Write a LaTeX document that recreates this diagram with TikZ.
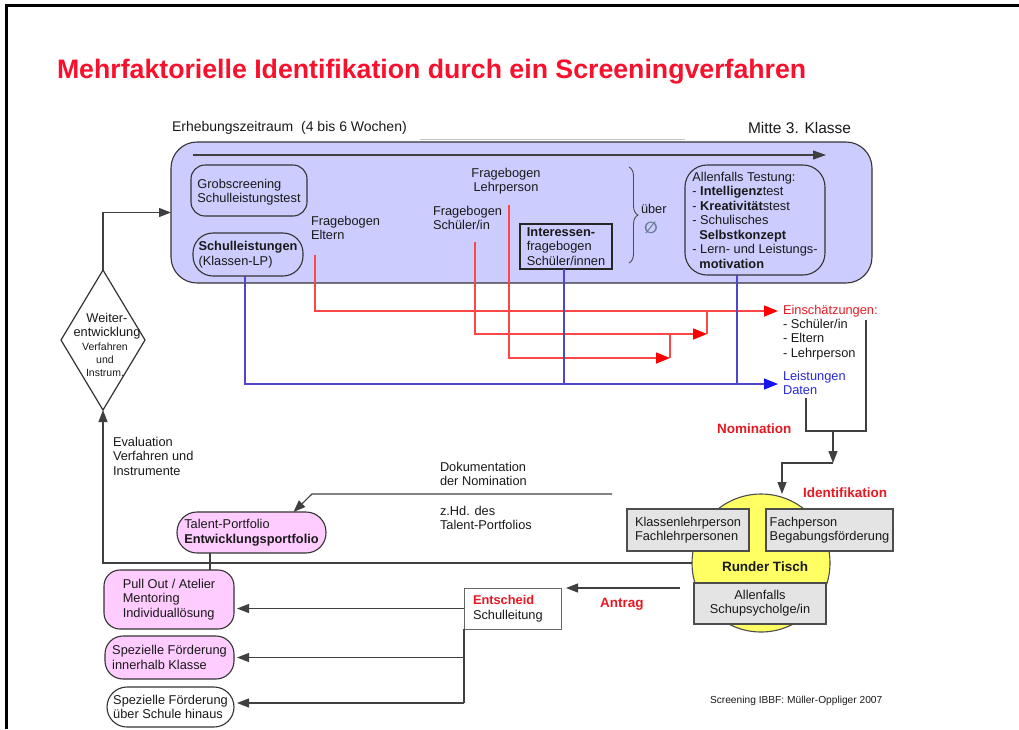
\documentclass[tikz,border=0pt]{standalone}
\usepackage{fontspec}
\setmainfont{Liberation Sans}
\newfontfamily\symfont{DejaVu Sans}
\usetikzlibrary{arrows.meta,shapes.geometric,decorations.pathreplacing}
\definecolor{titlered}{RGB}{248,16,44}
\definecolor{boxlav}{RGB}{204,204,255}
\definecolor{lnred}{RGB}{255,70,70}
\definecolor{arrred}{RGB}{255,0,0}
\definecolor{lnblue}{RGB}{80,70,205}
\definecolor{arrblue}{RGB}{20,20,240}
\definecolor{einred}{RGB}{230,25,35}
\definecolor{txtblue}{RGB}{40,40,220}
\definecolor{pinkfill}{RGB}{255,204,255}
\definecolor{grayfill}{RGB}{228,228,228}
\definecolor{tischyellow}{RGB}{255,255,100}
\definecolor{diacol}{RGB}{105,125,155}
\newcommand\bodyfont{\fontsize{12.8}{14.5}\selectfont}
\newcommand\labfont{\fontsize{13.5}{15}\selectfont\bfseries}
\begin{document}
\begin{tikzpicture}[x=1pt,y=-1pt,
  every node/.style={inner sep=0pt, outer sep=0pt, font=\bodyfont, text=black!90},
  bx/.style={draw=black!80, line width=1.1pt},
  gbox/.style={draw=black!70, line width=1.1pt, fill=grayfill, font=\fontsize{12.8}{13.8}\selectfont},
  pbox/.style={draw=black!80, line width=1.1pt, fill=pinkfill},
  wbox/.style={draw=black!80, line width=1.1pt, fill=white},
  ln/.style={draw=black!75, line width=1.1pt},
  arr/.style={ln, -{Triangle[length=12pt,width=9pt]}},
  redln/.style={draw=lnred, line width=1.5pt},
  redarr/.style={redln, -{Triangle[length=14pt,width=11pt,color=arrred]}},
  bluln/.style={draw=lnblue, line width=1.3pt},
  bluarr/.style={bluln, -{Triangle[length=14pt,width=11pt,color=arrblue]}}]
\useasboundingbox (0,0) rectangle (1019,729);
% frame
\draw[line width=3pt] (5,5) -- (1019,5);
\draw[line width=3pt] (6,5) -- (6,729);
% title
\node[anchor=base west, font=\fontsize{26.7}{30}\selectfont\bfseries, text=titlered] (title) at (57,78) {Mehrfaktorielle Identifikation durch ein Screeningverfahren};
% header
\node[anchor=west, font=\fontsize{14}{16}\selectfont] (ezr) at (172,128) {Erhebungszeitraum\ \ (4 bis 6 Wochen)};
\node[anchor=west, font=\fontsize{15.5}{17}\selectfont] (mitte) at (748,128) {Mitte 3. Klasse};
\draw[gray!45, line width=0.8pt] (420,139) -- (685,139);
% big box
\node[bx, fill=boxlav, rounded corners=26pt, minimum width=701pt, minimum height=141pt, anchor=north west] (erh) at (171,142) {};
\coordinate (t0) at (193,155);
\coordinate (t1) at (826,155);
\draw[arr, -{Triangle[length=13pt,width=9pt]}] (t0) -- (t1);
\node[bx, rounded corners=14pt, minimum width=116pt, minimum height=51pt, anchor=north west, align=left] (grob) at (191,165) {\rule{0pt}{13pt}Grobscreening\\Schulleistungstest};
\node[bx, rounded corners=20pt, minimum width=110pt, minimum height=43pt, anchor=north west, align=left] (sl) at (193,233) {\textbf{Schulleistungen}\\(Klassen-LP)};
\node[anchor=north west, align=left] (elt) at (311,216) {Fragebogen\\Eltern};
\node[anchor=north, align=center] (lehr) at (506,168) {Fragebogen\\Lehrperson};
\node[anchor=north west, align=left] (sch) at (433,206) {Fragebogen\\Schüler/in};
\node[draw=black!85, line width=1.1pt, minimum width=92pt, minimum height=45pt, anchor=north west, align=left] (int) at (520,224) {\textbf{Interessen-}\\fragebogen\\Schüler/innen};
\coordinate (br0) at (629,167);
\coordinate (br1) at (629,263);
\draw[decorate, decoration={brace, amplitude=9pt}, black!70, line width=0.9pt] (br0) -- (br1);
\node[anchor=west] (uber) at (641,209) {über};
\node[font=\symfont\fontsize{16}{17}\selectfont\bfseries, text=diacol] (dm) at (651,228) {∅};
\node[bx, rounded corners=22pt, minimum width=140pt, minimum height=110pt, anchor=north west, align=left] (alt) at (685,165) {Allenfalls Testung:\\- \textbf{Intelligenz}test\\- \textbf{Kreativität}stest\\- Schulisches\\\hspace*{7pt}\textbf{Selbstkonzept}\\- Lern- und Leistungs-\\\hspace*{7pt}\textbf{motivation}};
% right texts
\node[anchor=west, text=einred] (ein) at (783,311) {Einschätzungen:};
\node[anchor=north west, align=left] (einl) at (783,319) {- Schüler/in\\- Eltern\\- Lehrperson};
\node[anchor=north west, align=left, text=txtblue] (lei) at (783,371) {Leistungen\\Daten};
% red connectors
\coordinate (e0) at (315,255);
\coordinate (einT) at (778,311);
\draw[redarr] (e0) |- (einT);
\coordinate (s0) at (475,242);
\coordinate (sT) at (707,334);
\draw[redarr] (s0) |- (sT);
\draw[redln] (sT) -- (sT |- einT);
\coordinate (l0) at (509,205);
\coordinate (lT) at (670,358);
\draw[redarr] (l0) |- (lT);
\draw[redln] (lT) -- (lT |- sT);
% blue connectors
\coordinate (b0) at (245,276);
\coordinate (bT) at (778,384);
\coordinate (a0) at (737,275);
\coordinate (i0) at (564,269);
\draw[bluarr] (b0) |- (bT);
\draw[bluln] (i0) -- (i0 |- bT);
\draw[bluln] (a0) -- (a0 |- bT);
% nomination bracket
\coordinate (n1) at (866,320);
\coordinate (n2) at (806,398);
\coordinate (nb) at (866,431);
\coordinate (nm) at (833,431);
\coordinate (nt) at (833,463);
\coordinate (nl) at (782,463);
\coordinate (ni) at (782,494);
\draw[ln] (n1) -- (nb) -- (nb -| n2) -- (n2);
\draw[arr] (nm) -- (nt);
\node[anchor=west, text=einred, font=\labfont] (nom) at (717,429) {Nomination};
% runder tisch
\node[circle, draw=black!70, line width=1.1pt, fill=tischyellow, minimum size=138pt] (tisch) at (761,563) {};
\draw[arr] (nt) -- (nl) -- (ni);
\node[gbox, minimum width=122pt, minimum height=42pt, anchor=north west, align=left] (kl) at (627,509) {Klassenlehrperson\\Fachlehrpersonen};
\node[gbox, minimum width=127pt, minimum height=42pt, anchor=north west, align=left] (fp) at (766,509) {Fachperson\\Begabungsförderung};
\node[gbox, minimum width=132pt, minimum height=41pt, anchor=north west, align=center] (al) at (694,583) {Allenfalls\\Schupsycholge/in};
\node[font=\labfont] (rt) at (765,567) {Runder Tisch};
\node[anchor=west, text=einred, font=\labfont] (ident) at (803,493) {Identifikation};
% Entscheid
\node[draw=black!60, fill=white, line width=1pt, minimum height=41pt, text width=79pt, inner xsep=9pt, anchor=north west, align=left] (ent) at (464,588) {\textcolor{einred}{\textbf{Entscheid}}\\Schulleitung};
\coordinate (an0) at (680,588);
\draw[arr] (an0) -- ([xshift=5pt]ent.north east);
\node[anchor=west, text=einred, font=\labfont] (antrag) at (600,604) {Antrag};
% left boxes
\node[pbox, rounded corners=16pt, minimum width=130pt, minimum height=59pt, anchor=north west, align=left] (po) at (104,570) {Pull Out / Atelier\\Mentoring\\Individuallösung};
\node[pbox, rounded corners=18pt, minimum width=129pt, minimum height=43pt, anchor=north west, align=left] (sfi) at (105,636) {Spezielle Förderung\\innerhalb Klasse};
\node[wbox, rounded corners=20pt, minimum width=127pt, minimum height=40pt, anchor=north west, align=left] (sfu) at (107,687) {Spezielle Förderung\\über Schule hinaus};
\node[pbox, rounded corners=20pt, minimum width=149pt, minimum height=41pt, anchor=north west, align=left] (tp) at (177,512) {Talent-Portfolio\\\textbf{Entwicklungsportfolio}};
\draw[ln] ([xshift=-41.5pt]tp.south) -- ([xshift=41pt]po.north);
% diamond
\node[diamond, draw=black!80, line width=1.2pt, minimum width=84pt, minimum height=140pt, inner sep=0pt] (dia) at (103,340) {};
\node[align=center] (dia1) at (107,326) {Weiter-\\entwicklung};
\node[align=center, font=\fontsize{10.5}{13}\selectfont] (dia2) at (105,360) {Verfahren\\und\\Instrum.};
\coordinate (ev0) at (103,563);
\draw[arr] (tisch.west) -- (ev0) -- (dia.south);
\draw[arr] (dia.north) |- (erh.west);
\node[anchor=north west, align=left] (evt) at (113,437) {Evaluation\\Verfahren und\\Instrumente};
% Dokumentation
\coordinate (d0) at (612,494);
\coordinate (d1) at (312,494);
\draw[arr] (d0) -- (d1) -- ([xshift=42pt]tp.north);
\node[anchor=north west, align=left] (dok) at (440,462) {Dokumentation\\der Nomination};
\node[anchor=north west, align=left] (zhd) at (440,506) {z.Hd. des\\Talent-Portfolios};
% Entscheid arrows
\draw[arr, shorten >=3pt] (ent.west) -- (ent.west -| po.east);
\coordinate (eb) at (464,703);
\draw[ln] (ent.south west) -- (eb);
\draw[arr, shorten >=3pt] (ent.south west |- sfi.east) -- (sfi.east);
\draw[arr, shorten >=3pt] (eb) -- (eb -| sfu.east);
% footer
\node[anchor=west, font=\fontsize{10.2}{12}\selectfont] (foot) at (710,701) {Screening IBBF: Müller-Oppliger 2007};
\end{tikzpicture}
\end{document}
